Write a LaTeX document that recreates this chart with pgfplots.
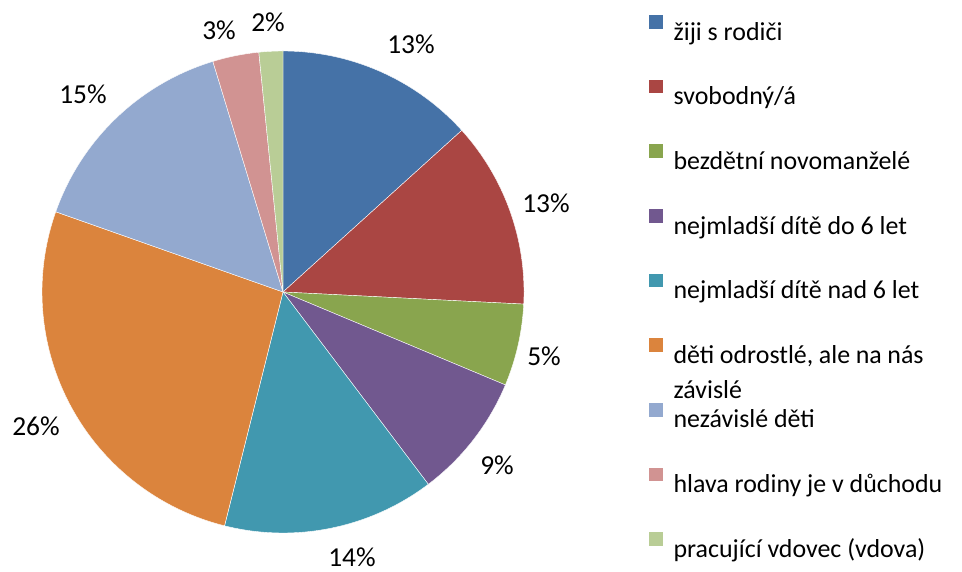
\documentclass[border=0pt]{standalone}
\usepackage{pgfplots}
\pgfplotsset{compat=1.18}
\usepackage{fontspec}
\setmainfont{Carlito}

\definecolor{c1}{HTML}{4572A7}
\definecolor{c2}{HTML}{AA4643}
\definecolor{c3}{HTML}{89A54E}
\definecolor{c4}{HTML}{71588F}
\definecolor{c5}{HTML}{4198AF}
\definecolor{c6}{HTML}{DB843D}
\definecolor{c7}{HTML}{93A9CF}
\definecolor{c8}{HTML}{D19392}
\definecolor{c9}{HTML}{B9CD96}

% slice: cumulative share before it, its share (in %), colour
\newcommand{\slice}[3]{%
  \pgfmathsetmacro\sa{90-3.6*(#1+#2)}%
  \pgfmathsetmacro\sb{90-3.6*#1}%
  \edef\doslice{\noexpand\addplot[fill=#3, draw=white, line width=0.4pt,
    domain=\sa:\sb, samples=120]}%
  \doslice ({283+241*cos(x)},{280+241*sin(x)}) -- (axis cs:283,280) -- cycle;
}
% legend text with fixed height and depth
\newcommand{\legtext}[1]{\hspace{8bp}\raisebox{0pt}[20bp][6bp]{#1}}

\begin{document}
\begin{tikzpicture}
\begin{axis}[
  scale only axis, width=962bp, height=572bp,
  xmin=0, xmax=962, ymin=0, ymax=572,
  hide axis, clip=false,
  legend style={at={(axis cs:648,558)}, anchor=north west, draw=none, fill=none,
    font=\fontsize{26}{35}\selectfont, row sep=35.2bp, inner sep=0pt,
    cells={inner sep=0pt},
    /tikz/every even column/.style={column sep=0pt}},
  legend cell align=left,
  legend image code/.code={\fill[#1] (0bp,2bp) rectangle (15bp,16.5bp);},
]
\slice{0}{13.3}{c1}
\addlegendentry{\legtext{žiji s rodiči}}
\slice{13.3}{12.5}{c2}
\addlegendentry{\legtext{svobodný/á}}
\slice{25.8}{5.5}{c3}
\addlegendentry{\legtext{bezdětní novomanželé}}
\slice{31.3}{8.4}{c4}
\addlegendentry{\legtext{nejmladší dítě do 6 let}}
\slice{39.7}{14.2}{c5}
\addlegendentry{\legtext{nejmladší dítě nad 6 let}}
\slice{53.9}{26.5}{c6}
\addlegendentry{\legtext{\parbox[t]{250bp}{děti odrostlé, ale na nás\\závislé}}}
\slice{80.4}{14.9}{c7}
\addlegendentry{\legtext{nezávislé děti}}
\slice{95.3}{3.1}{c8}
\addlegendentry{\legtext{hlava rodiny je v důchodu}}
\slice{98.4}{1.6}{c9}
\addlegendentry{\legtext{pracující vdovec (vdova)}}

\begin{scope}[every node/.style={font=\fontsize{27.5}{32}\selectfont, inner sep=0pt}]
\node at (axis cs:411,528) {13\%};
\node at (axis cs:546,369) {13\%};
\node at (axis cs:544,216) {5\%};
\node at (axis cs:497,107) {9\%};
\node at (axis cs:352,15) {14\%};
\node at (axis cs:36,146) {26\%};
\node at (axis cs:83,478) {15\%};
\node at (axis cs:219,542) {3\%};
\node at (axis cs:268,550) {2\%};
\end{scope}
\coordinate (bbsw) at (axis cs:0,0);
\coordinate (bbne) at (axis cs:962,572);
\end{axis}
\pgfresetboundingbox
\useasboundingbox (bbsw) rectangle (bbne);
\end{tikzpicture}
\end{document}
